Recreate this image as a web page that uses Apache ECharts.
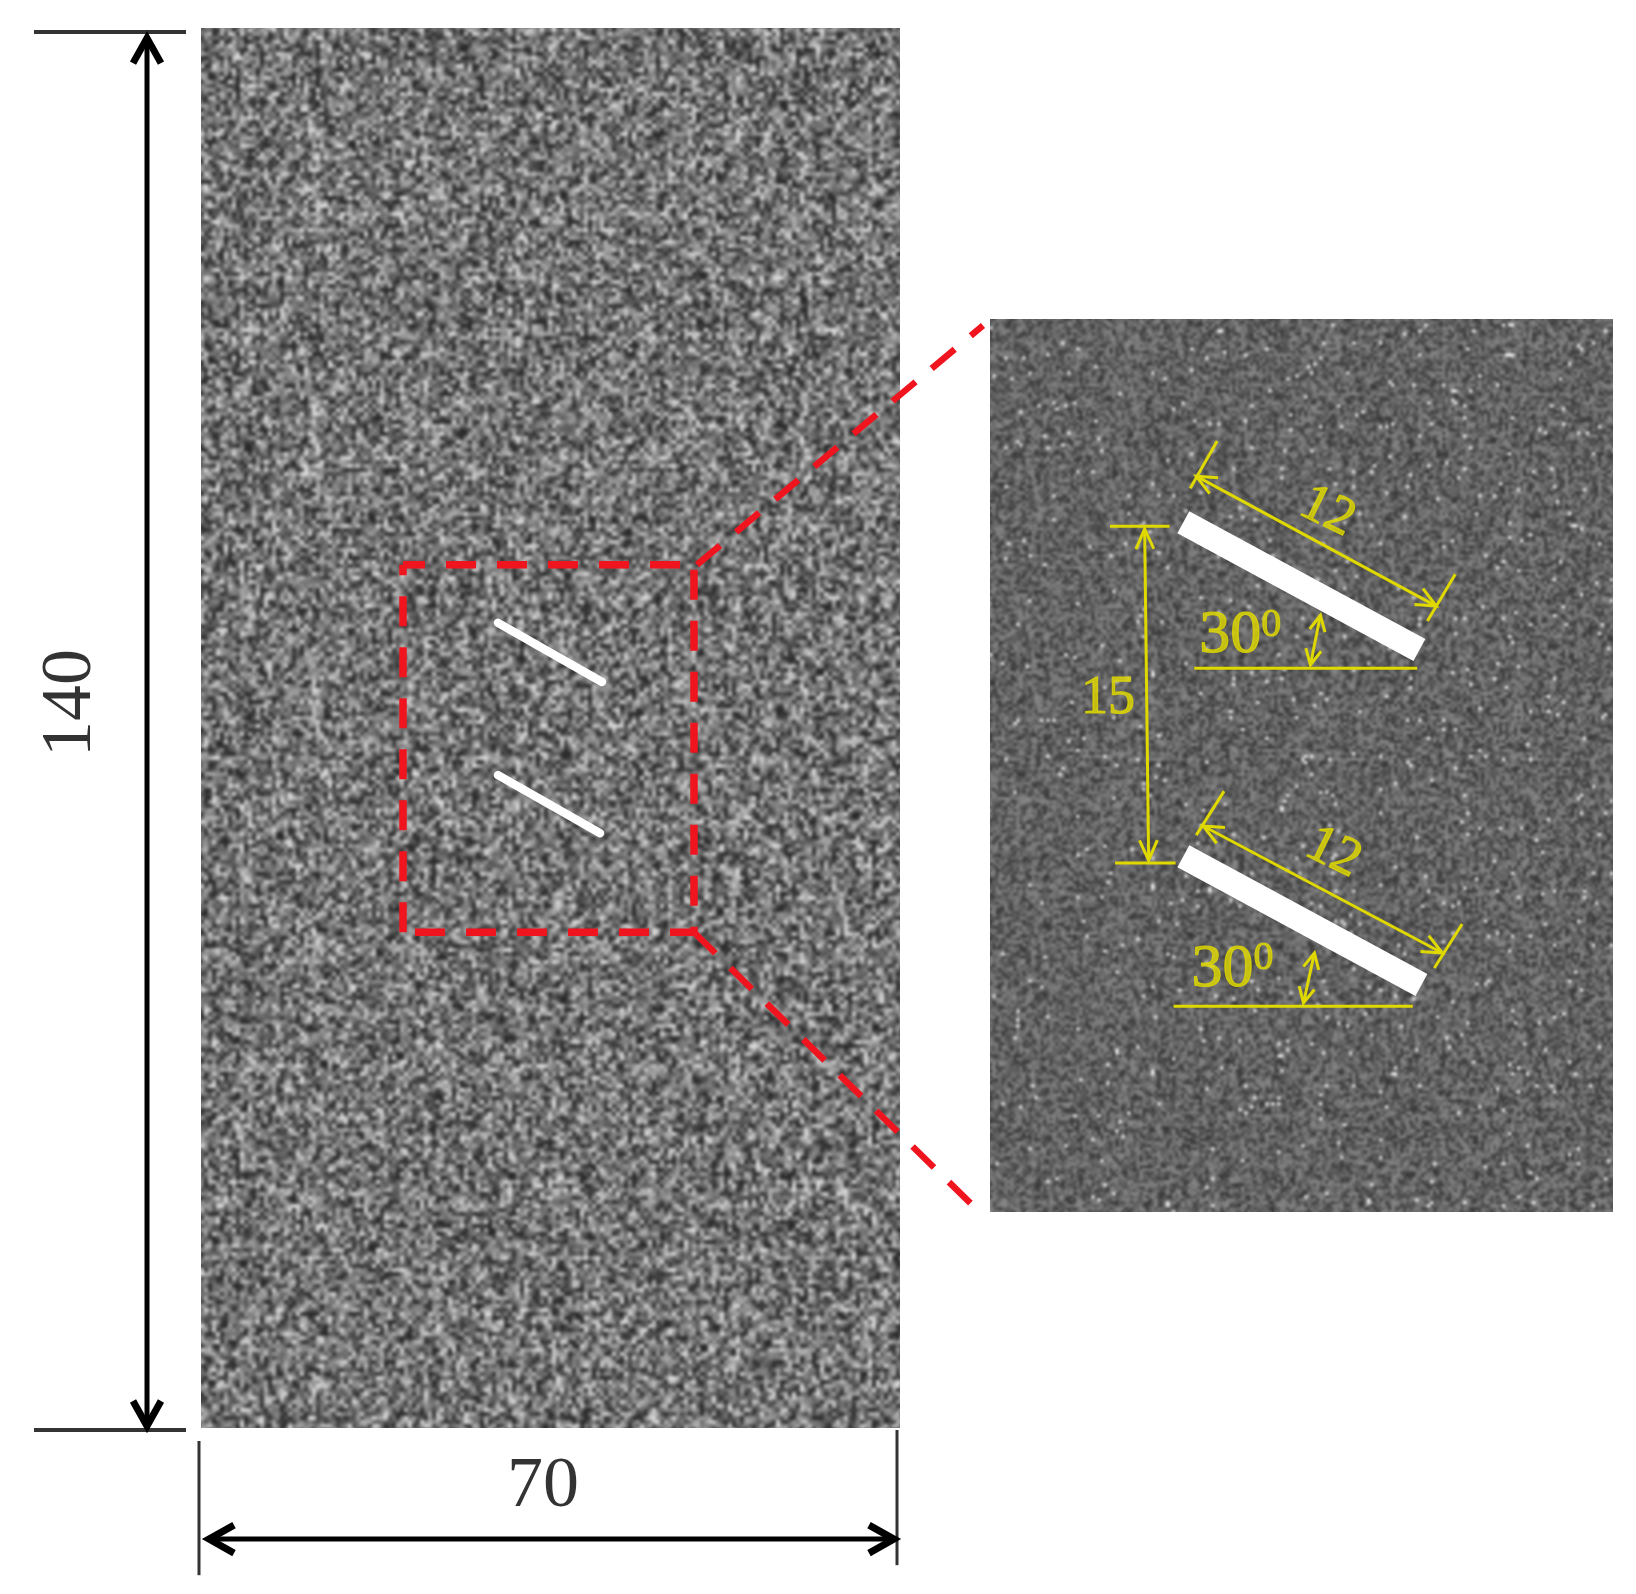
<!DOCTYPE html>
<html>
<head>
<meta charset="utf-8">
<style>
  html, body { margin: 0; background: #fff; }
  #chart { width: 1636px; height: 1594px; filter: blur(0.6px); }
</style>
<script src="https://cdn.jsdelivr.net/npm/echarts@6/dist/echarts.min.js"></script>
</head>
<body>
<div id="chart"></div>
<script>
// specimen outline, mm
const specimenRect = [[0, 0.2, 69.9, 140]];
// inset window, mm (zoomed view of the red box)
const insetRect = [[0, 0, 28, 40]];

// left view, mm
const crackUpper = [[29.7, 80.6], [40.1, 74.7]];
const crackLower = [[29.7, 65.4], [39.9, 59.6]];
const tickTop = [[-16.7, 139.6], [-1.5, 139.6]];
const tickBottom = [[-16.7, 0], [-1.5, 0]];
const tickLeft = [[-0.2, -1.1], [-0.2, -14.5]];
const tickRight = [[69.6, 0], [69.6, -13.5]];
const arrowHeight = [[-5.4, 139.0], [-5.4, 0.4]];
const arrowWidth = [[0.8, -10.9], [69.3, -10.9]];
const boxLeft = [[20.2, 49.7], [20.2, 86.4]];
const boxTop = [[20.2, 86.4], [49.3, 86.4]];
const boxRight = [[49.3, 86.4], [49.3, 49.7]];
const boxBottom = [[20.2, 49.7], [49.3, 49.7]];
const leaderUpper = [[49.6, 86.4], [78.2, 110.3]];
const leaderLower = [[49.3, 49.7], [77.3, 22.3]];

// inset view, mm
const insetCrackUpper = [[8.69, 30.9], [19.3, 25.17]];
const insetCrackLower = [[8.69, 15.94], [19.39, 10.17]];
const dimUpper = [[9.27, 32.96], [20.06, 27.14]];
const dimUpperTicks = [[[9.0, 32.42], [10.21, 34.53]], [[19.66, 26.47], [20.91, 28.57]]];
const dimLower = [[9.58, 17.29], [20.33, 11.6]];
const dimLowerTicks = [[[9.27, 16.88], [10.52, 18.85]], [[19.97, 10.93], [21.22, 12.9]]];
const dimGap = [[6.95, 30.6], [7.13, 15.75]];
const dimGapTicks = [[[5.39, 30.72], [8.07, 30.72]], [[5.62, 15.63], [8.34, 15.63]]];
const baseLines = [[[9.18, 24.36], [19.2, 24.36]], [[8.25, 9.22], [19.0, 9.22]]];
const angleArrows = [[[14.4, 24.5], [14.85, 26.73]], [[14.09, 9.36], [14.58, 11.6]]];

// text
const labelsMain = [[-13, 72.6, '140', 90], [34.2, -5.7, '70', 0]];
const labelsInsetDim = [[15.16, 31.35, '12', -26], [15.43, 16.08, '12', -26], [5.3, 23.0, '15', 0]];
const labelsInsetAngle = [[11.25, 25.8, '30', '0'], [10.9, 10.85, '30', '0']];

// gray digits for the particle texture of the two views, no meaning as data
const grainA = '3819402756192837465019283746501928374650918273645019283746509';
const grainB = '7205918364720591836472905183647205918364729051836407295183647205918';
const grainC = '14963728051496372805941637280514963728059416372805149637280594163728051';

function grainCanvas(width, height, cell, paint) {
  const small = document.createElement('canvas');
  small.width = Math.ceil(width / cell);
  small.height = Math.ceil(height / cell);
  const sc = small.getContext('2d');
  const img = sc.createImageData(small.width, small.height);
  for (let j = 0; j < small.height; j++) {
    for (let i = 0; i < small.width; i++) {
      // index grows with the square of the position so that no diagonal lattice shows
      const sum = +grainA[(i * i * 3 + j * j + i * j * 5 + j) % grainA.length] +
        +grainB[(i * i + j * j * 5 + i * j * 3 + i) % grainB.length] +
        +grainC[(i * i * 7 + j * j * 2 + i * j + i + j) % grainC.length];
      const g = paint(sum);
      const k = (j * small.width + i) * 4;
      img.data[k] = img.data[k + 1] = img.data[k + 2] = g;
      img.data[k + 3] = 255;
    }
  }
  sc.putImageData(img, 0, 0);
  const big = document.createElement('canvas');
  big.width = width;
  big.height = height;
  const bc = big.getContext('2d');
  bc.imageSmoothingEnabled = true;
  bc.filter = 'blur(1px)';
  bc.drawImage(small, 0, 0, width, height);
  return big;
}

const leftGrain = grainCanvas(1000, 1500, 4, s => Math.max(40, Math.min(225, 116 + (s - 13.5) * 11)));
const insetGrain = grainCanvas(1700, 1300, 3, s => s >= 25 ? 255 : Math.max(55, Math.min(135, 100 + (s - 13.5) * 6)));

function rectSeries(data, grain, axisIndex) {
  return {
    type: 'custom',
    xAxisIndex: axisIndex,
    yAxisIndex: axisIndex,
    data: data,
    encode: { x: [0, 2], y: [1, 3] },
    silent: true,
    z: 1,
    renderItem(params, api) {
      const a = api.coord([api.value(0), api.value(1)]);
      const b = api.coord([api.value(2), api.value(3)]);
      return {
        type: 'rect',
        shape: { x: a[0], y: b[1], width: b[0] - a[0], height: a[1] - b[1] },
        style: { fill: { image: grain, repeat: 'repeat' } }
      };
    }
  };
}

function line(points, color, width, axisIndex, extra) {
  return {
    type: 'line',
    xAxisIndex: axisIndex,
    yAxisIndex: axisIndex,
    data: points,
    showSymbol: false,
    symbol: 'none',
    silent: true,
    z: 2,
    lineStyle: Object.assign({ color: color, width: width, cap: 'butt', join: 'miter' }, extra)
  };
}

// open arrow head at points[end], as a barb - tip - barb polyline
function head(points, end, len, half) {
  const tip = points[end];
  const tail = points[end === 0 ? 1 : 0];
  const dx = tail[0] - tip[0];
  const dy = tail[1] - tip[1];
  const d = Math.hypot(dx, dy);
  const ux = dx / d;
  const uy = dy / d;
  return [
    [tip[0] + ux * len - uy * half, tip[1] + uy * len + ux * half],
    tip,
    [tip[0] + ux * len + uy * half, tip[1] + uy * len - ux * half]
  ];
}

function doubleArrow(points, color, width, axisIndex, len, half, headWidth) {
  return [
    line(points, color, width, axisIndex),
    line(head(points, 0, len, half), color, headWidth || width, axisIndex),
    line(head(points, 1, len, half), color, headWidth || width, axisIndex)
  ];
}

const RED = '#f0141e';
const YELLOW = '#e0d900';
const DARK = '#333';
const redDash = offset => ({ type: [30, 21], dashOffset: offset });

const series = [
  rectSeries(specimenRect, leftGrain, 0),
  rectSeries(insetRect, insetGrain, 1),

  line(crackUpper, '#fff', 8.5, 0, { cap: 'round' }),
  line(crackLower, '#fff', 8.5, 0, { cap: 'round' }),

  line(tickTop, DARK, 4, 0),
  line(tickBottom, DARK, 4, 0),
  line(tickLeft, DARK, 3, 0),
  line(tickRight, DARK, 3, 0),
  ...doubleArrow(arrowHeight, '#000', 5, 0, 2.5, 1.4, 7),
  ...doubleArrow(arrowWidth, '#000', 5, 0, 2.5, 1.4, 7),

  line(boxLeft, RED, 7.5, 0, redDash(0)),
  line(boxTop, RED, 7.5, 0, redDash(8)),
  line(boxRight, RED, 7.5, 0, redDash(46)),
  line(boxBottom, RED, 7.5, 0, redDash(39)),
  line(leaderUpper, RED, 6.5, 0, redDash(0)),
  line(leaderLower, RED, 6.5, 0, redDash(0)),

  line(insetCrackUpper, '#fff', 25, 1),
  line(insetCrackLower, '#fff', 25, 1),
  ...doubleArrow(dimUpper, YELLOW, 3, 1, 0.9, 0.4),
  ...doubleArrow(dimLower, YELLOW, 3, 1, 0.9, 0.4),
  ...doubleArrow(dimGap, YELLOW, 3, 1, 0.9, 0.4),
  ...angleArrows.flatMap(a => doubleArrow(a, YELLOW, 3, 1, 0.7, 0.35)),
  ...dimUpperTicks.concat(dimLowerTicks, dimGapTicks, baseLines).map(p => line(p, YELLOW, 3, 1)),

  {
    type: 'scatter',
    xAxisIndex: 0,
    yAxisIndex: 0,
    symbolSize: 0,
    silent: true,
    z: 3,
    data: labelsMain.map(d => ({
      value: [d[0], d[1]],
      label: { show: true, position: 'inside', formatter: d[2], rotate: d[3],
        fontFamily: 'Liberation Serif', fontSize: 72, color: '#000' }
    }))
  },
  {
    type: 'scatter',
    xAxisIndex: 1,
    yAxisIndex: 1,
    symbolSize: 0,
    silent: true,
    z: 3,
    data: labelsInsetDim.map(d => ({
      value: [d[0], d[1]],
      label: { show: true, position: 'inside', formatter: d[2], rotate: d[3],
        fontFamily: 'Liberation Serif', fontSize: 54, color: YELLOW,
        textBorderColor: YELLOW, textBorderWidth: 1.2 }
    })).concat(labelsInsetAngle.map(d => ({
      value: [d[0], d[1]],
      label: { show: true, position: 'inside', formatter: '{n|' + d[2] + '}{s|' + d[3] + '}',
        rich: {
          n: { fontFamily: 'Liberation Serif', fontSize: 62, color: YELLOW,
            textBorderColor: YELLOW, textBorderWidth: 1.2 },
          s: { fontFamily: 'Liberation Serif', fontSize: 40, color: YELLOW, verticalAlign: 'top',
            padding: [0, 0, 16, 0], textBorderColor: YELLOW, textBorderWidth: 1 }
        } }
    })))
  }
];

const chart = echarts.init(document.getElementById('chart'), null, { renderer: 'canvas' });
chart.setOption({
  animation: false,
  backgroundColor: '#fff',
  tooltip: { show: false },
  grid: [
    { left: 0, top: 0, width: 1636, height: 1594 },
    { left: 990, top: 319, width: 623, height: 893 }
  ],
  xAxis: [
    { type: 'value', gridIndex: 0, min: -20.1, max: 143.5, show: false },
    { type: 'value', gridIndex: 1, min: 0, max: 28, show: false }
  ],
  yAxis: [
    { type: 'value', gridIndex: 0, min: -16.38, max: 142.8, show: false },
    { type: 'value', gridIndex: 1, min: 0, max: 40, show: false }
  ],
  series: series
});
</script>
</body>
</html>
